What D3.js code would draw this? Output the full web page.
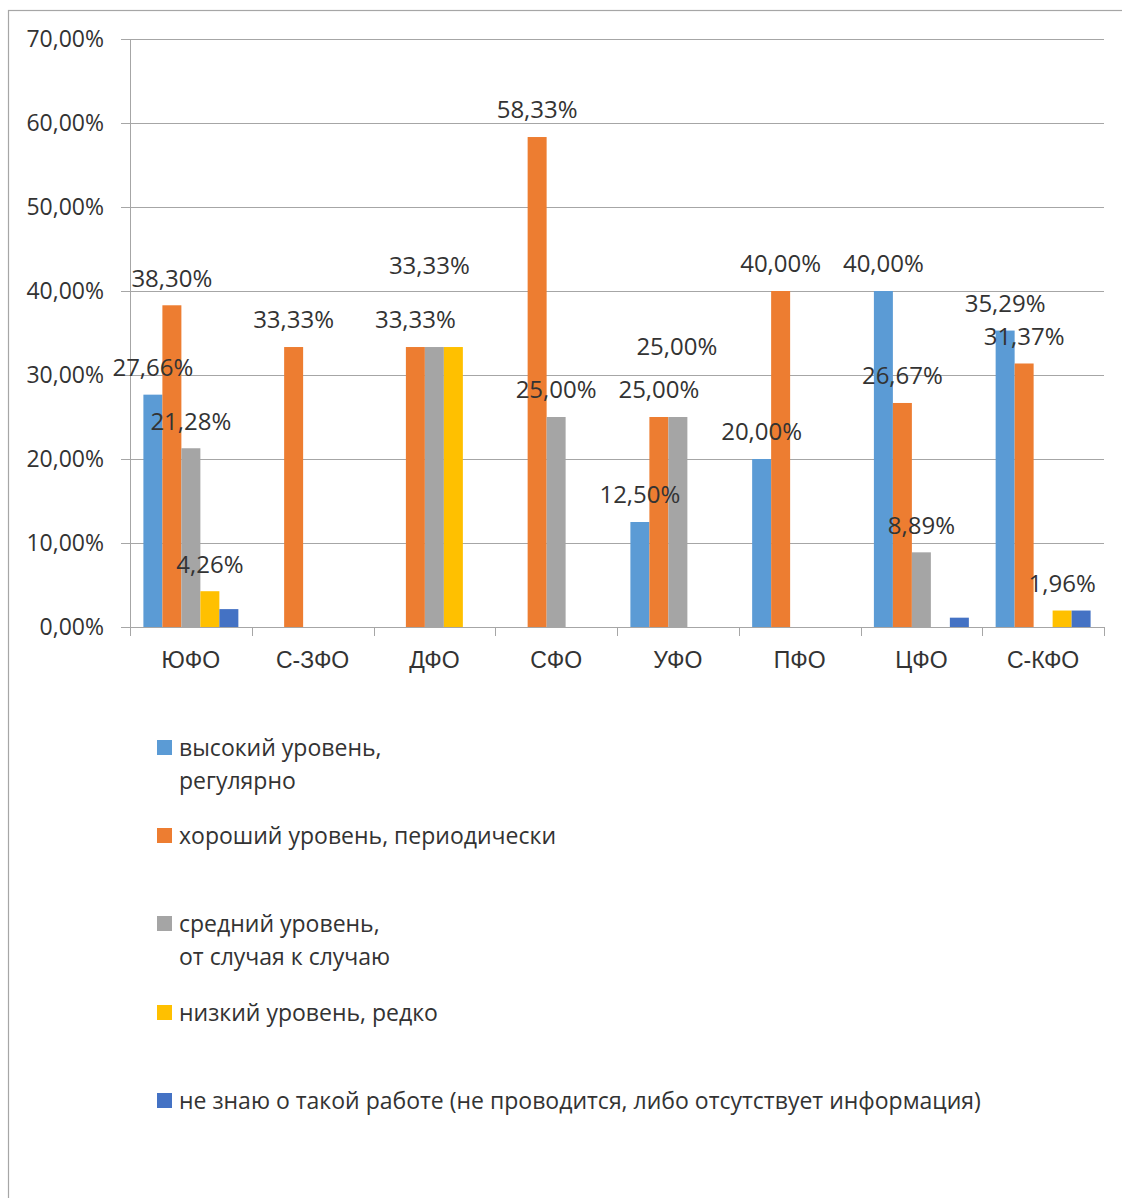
<!DOCTYPE html>
<html><head><meta charset="utf-8">
<script src="https://cdn.jsdelivr.net/npm/d3@7"></script>
<style>
html,body{margin:0;padding:0;background:#fff;}
svg{display:block;font-family:"Open Sans","Liberation Sans",sans-serif;}
</style></head>
<body>
<svg id="chart" width="1122" height="1198"></svg>
<script>
const categories = ["ЮФО","С-ЗФО","ДФО","СФО","УФО","ПФО","ЦФО","С-КФО"];
const seriesNames = [
  ["высокий уровень,","регулярно"],
  ["хороший уровень, периодически"],
  ["средний уровень,","от случая к случаю"],
  ["низкий уровень, редко"],
  ["не знаю о такой работе (не проводится, либо отсутствует информация)"]
];
const seriesColors = ["#5B9BD5","#ED7D31","#A5A5A5","#FFC000","#4472C4"];
// values in %, null = no bar
const high    = [27.66, null, null, null, 12.50, 20.00, 40.00, 35.29];
const good    = [38.30, 33.33, 33.33, 58.33, 25.00, 40.00, 26.67, 31.37];
const medium  = [21.28, null, 33.33, 25.00, 25.00, null, 8.89, null];
const low     = [4.26, null, 33.33, null, null, null, null, 1.96];
const unknown = [2.13, null, null, null, null, null, 1.11, 1.96];
const seriesValues = [high, good, medium, low, unknown];
// which labels are shown (Excel hid some overlapping ones)
const showLabel = [
  [1,0,0,0,1,1,1,1],
  [1,1,1,1,1,1,1,1],
  [1,0,1,1,1,0,1,0],
  [1,0,0,0,0,0,0,1],
  [0,0,0,0,0,0,0,0]
];
// extra nudge for labels that Excel moved to avoid overlap (layout only)
const labelNudge = {"2-2":[-5,-54], "2-4":[-1,-43]};
const yTicks = [0,10,20,30,40,50,60,70];

const svg = d3.select("#chart");
const W=1122,H=1198;
const m = {left:130, top:39};
const plotW = 1104-130, plotH = 627-39;
const textColor = "#333";

// outer frame
svg.append("rect").attr("x",8.5).attr("y",10.5).attr("width",W+10).attr("height",H+10)
  .attr("fill","none").attr("stroke","#a6a6a6").attr("stroke-width",1.2);

const g = svg.append("g").attr("transform",`translate(${m.left},${m.top})`);
const x0 = d3.scaleBand().domain(categories).range([0,plotW]).paddingInner(0).paddingOuter(0);
const x1 = d3.scaleBand().domain(d3.range(5)).range([0,x0.bandwidth()]).paddingInner(0).paddingOuter(13.4/19.0);
const y = d3.scaleLinear().domain([0,70]).range([plotH,0]);

// gridlines
g.append("g").selectAll("line").data(yTicks).join("line")
  .attr("x1",-9).attr("x2",plotW).attr("y1",d=>Math.round(y(d))+0.5).attr("y2",d=>Math.round(y(d))+0.5)
  .attr("stroke","#a6a6a6").attr("stroke-width",1);

// y axis
const yAxis = d3.axisLeft(y).tickValues(yTicks).tickSize(0).tickPadding(26)
  .tickFormat(d=>d3.format(".2f")(d).replace(".",",")+"%");
const ya = g.append("g").call(yAxis);
ya.select(".domain").remove();
ya.selectAll("text").attr("fill",textColor).style("font-size","23px").attr("font-family","'Open Sans',sans-serif");
g.append("line").attr("x1",0.5).attr("x2",0.5).attr("y1",0).attr("y2",plotH).attr("stroke","#a6a6a6");

// bars
categories.forEach((c,ci)=>{
  seriesValues.forEach((vals,si)=>{
    const v = vals[ci];
    if(v==null) return;
    g.append("rect")
      .attr("x",x0(c)+x1(si)).attr("width",x1.bandwidth())
      .attr("y",y(v)).attr("height",y(0)-y(v))
      .attr("fill",seriesColors[si]);
  });
});

// x axis
const xa = g.append("g").attr("transform",`translate(0,${plotH})`)
  .call(d3.axisBottom(x0).tickSize(0).tickPadding(25));
xa.select(".domain").attr("stroke","#a6a6a6");
xa.selectAll("text").attr("fill",textColor).style("font-size","23px");
g.append("g").selectAll("line").data(d3.range(categories.length+1)).join("line")
  .attr("x1",i=>Math.round(i*x0.bandwidth())+0.5).attr("x2",i=>Math.round(i*x0.bandwidth())+0.5)
  .attr("y1",plotH).attr("y2",plotH+9).attr("stroke","#a6a6a6");

// data labels
categories.forEach((c,ci)=>{
  seriesValues.forEach((vals,si)=>{
    const v = vals[ci];
    if(v==null || !showLabel[si][ci]) return;
    const n = labelNudge[si+"-"+ci] || [0,0];
    g.append("text")
      .attr("x",x0(c)+x1(si)+x1.bandwidth()/2+n[0])
      .attr("y",y(v)-27+n[1])
      .attr("dy","0.35em")
      .attr("text-anchor","middle")
      .attr("fill",textColor).style("font-size","24px")
      .text(d3.format(".2f")(v).replace(".",",")+"%");
  });
});

// legend
const legY = [748, 836, 924, 1013, 1101];
const lg = svg.append("g");
seriesNames.forEach((lines,i)=>{
  lg.append("rect").attr("x",157).attr("y",legY[i]-8).attr("width",15).attr("height",15).attr("fill",seriesColors[i]);
  lines.forEach((t,li)=>{
    lg.append("text").attr("x",179).attr("y",legY[i]+li*33).attr("dy","0.35em")
      .attr("fill",textColor).style("font-size","23px").text(t);
  });
});
</script>
</body></html>
